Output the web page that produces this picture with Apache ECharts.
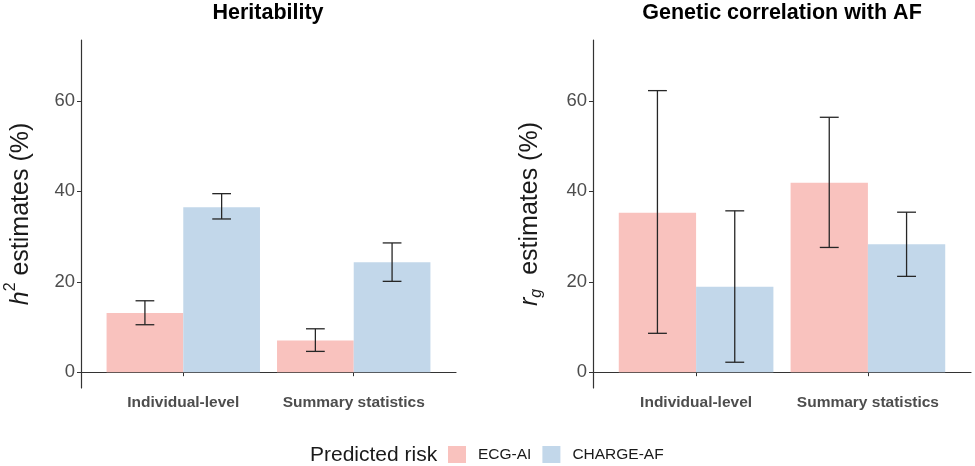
<!DOCTYPE html>
<html>
<head>
<meta charset="utf-8">
<script src="https://cdn.jsdelivr.net/npm/echarts@6/dist/echarts.min.js"></script>
<style>
  html, body { margin: 0; padding: 0; background: #fff; }
  #main { width: 975px; height: 466px; }
</style>
</head>
<body>
<div id="main"></div>
<script>
// categories on the x axis (positions 1 and 2)
const categories = ['Individual-level', 'Summary statistics'];
const catPos = [1, 2];
const yTicks = [0, 20, 40, 60];

// Heritability (h2, %)
const h2Ecg = [13.1, 7.0];
const h2EcgLo = [10.5, 4.6];
const h2EcgHi = [15.8, 9.6];
const h2Charge = [36.5, 24.3];
const h2ChargeLo = [33.9, 20.1];
const h2ChargeHi = [39.5, 28.6];

// Genetic correlation with AF (rg, %)
const rgEcg = [35.3, 41.9];
const rgEcgLo = [8.6, 27.6];
const rgEcgHi = [62.3, 56.4];
const rgCharge = [18.9, 28.3];
const rgChargeLo = [2.2, 21.2];
const rgChargeHi = [35.7, 35.4];

const PINK = '#F9C2BE';
const BLUE = '#C2D7EA';
const FONT = '"Liberation Sans", Arial, sans-serif';

function rows(v, lo, hi) {
  return catPos.map((x, i) => [x, v[i], lo[i], hi[i]]);
}

// dodged bar + error bar, width 0.45 each in data units
function barRender(offset) {
  return function (params, api) {
    const x = api.value(0) + offset;
    const tl = api.coord([x - 0.225, api.value(1)]);
    const br = api.coord([x + 0.225, 0]);
    const lo = api.coord([x, api.value(2)]);
    const hi = api.coord([x, api.value(3)]);
    const capL = api.coord([x - 0.055, 0])[0];
    const capR = api.coord([x + 0.055, 0])[0];
    const es = { stroke: '#262626', lineWidth: 1.3 };
    return {
      type: 'group',
      children: [
        { type: 'rect', shape: { x: tl[0], y: tl[1], width: br[0] - tl[0], height: br[1] - tl[1] },
          style: { fill: api.visual('color') } },
        { type: 'line', z2: 5, shape: { x1: lo[0], y1: lo[1], x2: hi[0], y2: hi[1] }, style: es },
        { type: 'line', z2: 5, shape: { x1: capL, y1: lo[1], x2: capR, y2: lo[1] }, style: es },
        { type: 'line', z2: 5, shape: { x1: capL, y1: hi[1], x2: capR, y2: hi[1] }, style: es }
      ]
    };
  };
}

function xAxis(gi) {
  return {
    type: 'value', gridIndex: gi, min: 0.4, max: 2.6,
    splitLine: { show: false },
    axisLine: { show: true, lineStyle: { color: '#333', width: 1.2 } },
    axisTick: { show: true, length: 4, customValues: catPos, lineStyle: { color: '#333' } },
    axisLabel: {
      customValues: catPos, margin: 7,
      fontFamily: FONT, fontSize: 15.5, fontWeight: 'bold', color: '#4D4D4D',
      formatter: v => categories[Math.round(v) - 1] || ''
    }
  };
}

function yAxis(gi, name, rich, gap) {
  return {
    type: 'value', gridIndex: gi, min: -3.5, max: 73.5,
    splitLine: { show: false },
    axisLine: { show: true, lineStyle: { color: '#333', width: 1.2 } },
    axisTick: { show: true, length: 4, customValues: yTicks, lineStyle: { color: '#333' } },
    axisLabel: { customValues: yTicks, margin: 6, fontFamily: FONT, fontSize: 18.5, color: '#4D4D4D' },
    name: name, nameLocation: 'middle', nameGap: gap, nameRotate: 90,
    nameTextStyle: { fontFamily: FONT, fontSize: 25, color: '#1a1a1a', rich: rich }
  };
}

const chart = echarts.init(document.getElementById('main'));
chart.setOption({
  animation: false,
  backgroundColor: '#fff',
  grid: [
    { left: 81, top: 40, width: 375, height: 348, outerBoundsMode: 'none' },
    { left: 593, top: 40, width: 378, height: 348, outerBoundsMode: 'none' }
  ],
  xAxis: [xAxis(0), xAxis(1)],
  yAxis: [
    yAxis(0, '{i|h}{sup|2} estimates (%)', {
      i: { fontFamily: FONT, fontSize: 25, fontStyle: 'italic', color: '#1a1a1a' },
      sup: { fontFamily: FONT, fontSize: 16, color: '#1a1a1a', padding: [0, 0, 20, 0] }
    }, 42),
    yAxis(1, '{i|r}{sub|g}  estimates (%)', {
      i: { fontFamily: FONT, fontSize: 25, fontStyle: 'italic', color: '#1a1a1a' },
      sub: { fontFamily: FONT, fontSize: 16, fontStyle: 'italic', color: '#1a1a1a', padding: [14, 0, 0, 0] }
    }, 48)
  ],
  legend: {
    data: ['ECG-AI', 'CHARGE-AF'],
    left: 448, top: 446, padding: 0,
    icon: 'rect', itemWidth: 18, itemHeight: 17, itemGap: 11,
    textStyle: { fontFamily: FONT, fontSize: 15.5, color: '#1a1a1a', padding: [0, 0, 0, 7] }
  },
  graphic: [
    { type: 'text', x: 268, y: 2,
      style: { text: 'Heritability', textAlign: 'center', fontFamily: FONT, fontSize: 21.5, fontWeight: 'bold', fill: '#000' } },
    { type: 'text', x: 782, y: 2,
      style: { text: 'Genetic correlation with AF', textAlign: 'center', fontFamily: FONT, fontSize: 21.5, fontWeight: 'bold', fill: '#000' } },
    { type: 'text', x: 310, y: 445,
      style: { text: 'Predicted risk', fontFamily: FONT, fontSize: 21, fill: '#1a1a1a' } }
  ],
  series: [
    { type: 'custom', name: 'ECG-AI', xAxisIndex: 0, yAxisIndex: 0, itemStyle: { color: PINK },
      renderItem: barRender(-0.225), data: rows(h2Ecg, h2EcgLo, h2EcgHi) },
    { type: 'custom', name: 'CHARGE-AF', xAxisIndex: 0, yAxisIndex: 0, itemStyle: { color: BLUE },
      renderItem: barRender(0.225), data: rows(h2Charge, h2ChargeLo, h2ChargeHi) },
    { type: 'custom', name: 'ECG-AI', xAxisIndex: 1, yAxisIndex: 1, itemStyle: { color: PINK },
      renderItem: barRender(-0.225), data: rows(rgEcg, rgEcgLo, rgEcgHi) },
    { type: 'custom', name: 'CHARGE-AF', xAxisIndex: 1, yAxisIndex: 1, itemStyle: { color: BLUE },
      renderItem: barRender(0.225), data: rows(rgCharge, rgChargeLo, rgChargeHi) }
  ]
});
</script>
</body>
</html>
